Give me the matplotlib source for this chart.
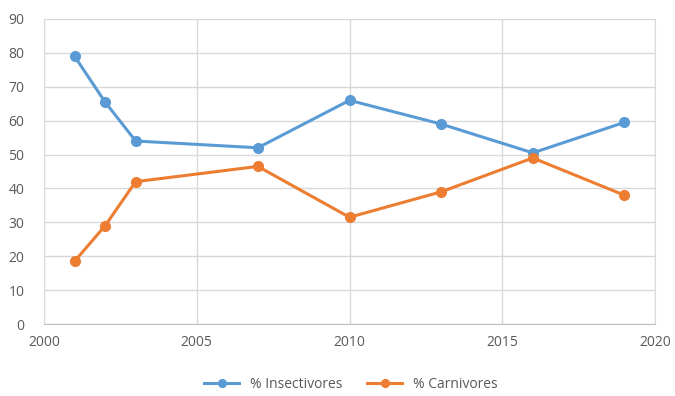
import matplotlib.pyplot as plt

years = [2001, 2002, 2003, 2007, 2010, 2013, 2016, 2019]
insectivores = [79, 65.5, 54, 52, 66, 59, 50.5, 59.5]
carnivores = [18.5, 29, 42, 46.5, 31.5, 39, 49, 38]

blue = "#5B9BD5"
orange = "#ED7D31"
grid_col = "#D9D9D9"
text_col = "#595959"

plt.rcParams["font.family"] = ["Open Sans", "DejaVu Sans"]

fig = plt.figure(figsize=(6.75, 3.96), dpi=100)
ax = fig.add_axes([44 / 675, 1 - 324 / 396, (655 - 44) / 675, (324 - 19) / 396])

ax.plot(years, insectivores, "-o", color=blue, lw=2.2, ms=7, label="% Insectivores")
ax.plot(years, carnivores, "-o", color=orange, lw=2.2, ms=7, label="% Carnivores")

ax.set_xlim(2000, 2020)
ax.set_ylim(0, 90)
ax.set_xticks(range(2000, 2021, 5))
ax.set_yticks(range(0, 91, 10))
ax.grid(True, color=grid_col, lw=1)
ax.set_axisbelow(True)

for side in ["top", "left"]:
    ax.spines[side].set_visible(False)
ax.spines["right"].set_color(grid_col)
ax.spines["bottom"].set_color("#BFBFBF")
ax.tick_params(length=0, labelsize=10, colors=text_col, pad=8)
ax.tick_params(axis="y", pad=14)

leg = fig.legend(loc="center", bbox_to_anchor=(0.52, 12 / 396), ncol=2,
                 frameon=False, fontsize=10, labelcolor=text_col,
                 handlelength=2.5, markerscale=0.8, columnspacing=1.8)

fig.savefig("out.png", dpi=100)
